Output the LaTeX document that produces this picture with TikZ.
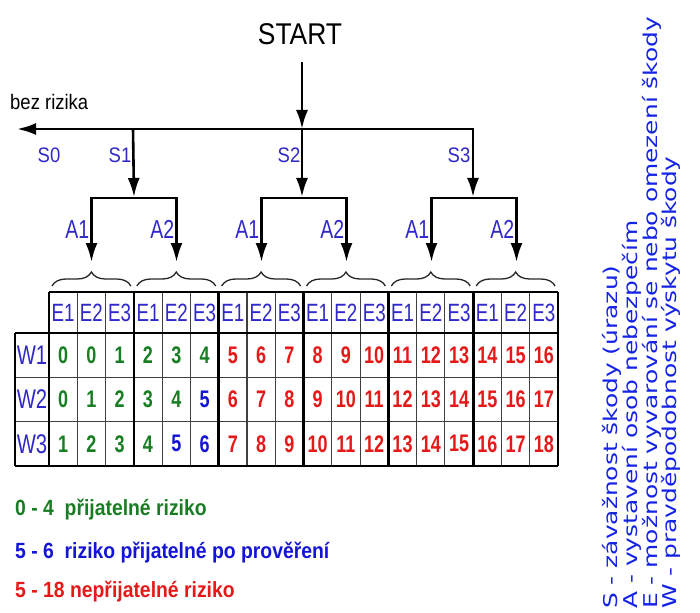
\documentclass[tikz,border=0pt]{standalone}
\usepackage{fontspec}
\usepackage{xcolor}
\usetikzlibrary{arrows.meta,decorations.pathreplacing}
\setmainfont{Liberation Sans}
\newfontfamily\narrowsf[FakeStretch=0.75]{Liberation Sans}
\newfontfamily\midsf[FakeStretch=0.88]{Liberation Sans}
\newfontfamily\vertsf[FakeStretch=1.31]{DejaVu Sans}
\definecolor{labelblue}{RGB}{48,40,200}
\definecolor{riskgreen}{RGB}{25,125,35}
\definecolor{riskblue}{RGB}{20,20,215}
\definecolor{riskred}{RGB}{230,25,25}
\definecolor{noteblue}{RGB}{20,35,230}
\newcommand{\colw}{28.28}
\newcommand{\rowh}{44.33}

\begin{document}
\begin{tikzpicture}[x=1pt,y=-1pt,inner sep=0pt,
  >={Latex[length=19pt,width=12pt]},
  flow/.style={line width=2.6pt},
  gridthin/.style={line width=1.1pt,black!75},
  gridthick/.style={line width=2.6pt},
  bracestyle/.style={line width=1.3pt,black!85,decorate,decoration={brace,amplitude=14pt}},
  slabel/.style={font=\midsf\fontsize{21}{25}\selectfont,text=labelblue,anchor=base},
  alabel/.style={font=\narrowsf\fontsize{26}{30}\selectfont,text=labelblue,anchor=base east},
  head/.style={font=\narrowsf\fontsize{25}{29}\selectfont,text=labelblue},
  num/.style={font=\narrowsf\bfseries\fontsize{24}{28}\selectfont},
  legend/.style={font=\midsf\bfseries\fontsize{22}{26}\selectfont,anchor=base west},
  note/.style={font=\vertsf\fontsize{19}{23}\selectfont,text=noteblue,rotate=90,anchor=base west}]
\useasboundingbox (0,0) rectangle (700,612);

\node[font=\midsf\fontsize{30}{36}\selectfont,anchor=base] (start) at (300,45) {START};
\node[font=\midsf\fontsize{21}{25}\selectfont,anchor=base west] (bez) at (10,110) {bez rizika};

% main flow
\coordinate (st) at (302,62);
\coordinate (hub) at (302,129);
\coordinate (left) at (17,129);
\coordinate (s1) at (133,129);
\coordinate (s3) at (473,129);
\coordinate (top1) at (134,197);
\coordinate (top2) at (302,197);
\coordinate (top3) at (473,197);
\draw[flow,->] (st) -- (hub);
\draw[flow,<->] (left) -- (s3) -- (top3);
\draw[flow,->] (s1) -- (top1);
\draw[flow,->] (hub) -- (top2);

\node[slabel] (lS0) at (49,163) {S0};
\node[slabel] (lS1) at (120,163) {S1};
\node[slabel] (lS2) at (289,163) {S2};
\node[slabel] (lS3) at (459,163) {S3};

% A brackets
\foreach \g/\cx in {1/134,2/304,3/474}{
  \coordinate (a\g l) at ({\cx-42.5},262);
  \coordinate (a\g r) at ({\cx+42.5},262);
  \coordinate (b\g) at (\cx,198);
  \draw[flow,<->] (a\g l) |- (b\g) -| (a\g r);
  \node[alabel] (A\g l) at ({\cx-44.5},238) {A1};
  \node[alabel] (A\g r) at ({\cx+40.5},238) {A2};
}

% braces
\foreach \k in {0,...,5}
  \draw[bracestyle] ({49+3*\k*\colw+3},286) -- ({49+3*(\k+1)*\colw-3},286);

% table grid
\foreach \y in {1,2}
  \draw[gridthin] (15,{333+\y*\rowh}) -- (558,{333+\y*\rowh});
\foreach \c in {1,...,17}
  \draw[gridthin] ({49+\c*\colw},292) -- ({49+\c*\colw},466);
\foreach \c in {0,3,...,18}
  \draw[gridthick] ({49+\c*\colw},292) -- ({49+\c*\colw},466);
\draw[gridthick] (49,292) -- (558,292);
\draw[gridthick] (15,333) -- (558,333);
\draw[gridthick] (15,466) -- (558,466);
\draw[gridthick] (15,333) -- (15,466);

% table texts
\foreach \c in {1,...,18}{
  \pgfmathtruncatemacro\e{mod(\c-1,3)+1}
  \node[head] (e\c) at ({49+(\c-0.5)*\colw},312.5) {E\e};
}
\foreach \r in {1,2,3}{
  \node[head,font=\narrowsf\fontsize{27}{31}\selectfont] (w\r) at (32,{333+(\r-0.5)*\rowh}) {W\r};
  \foreach \c in {1,...,18}{
    \pgfmathtruncatemacro\v{max(\c+\r-3,0)}
    \ifnum\c>6 \def\vcol{riskred}\else\ifnum\v>4 \def\vcol{riskblue}\else\def\vcol{riskgreen}\fi\fi
    \node[num,text=\vcol] (v\r-\c) at ({49+(\c-0.5)*\colw},{333+(\r-0.5)*\rowh}) {\v};
  }
}

% legend
\node[legend,text=riskgreen] (leg1) at (15,515) {0 - 4\ \ přijatelné riziko};
\node[legend,text=riskblue] (leg2) at (15,558) {5 - 6\ \ riziko přijatelné po prověření};
\node[legend,text=riskred] (leg3) at (15,597) {5 - 18 nepřijatelné riziko};

% vertical notes
\node[note] (noteS) at (617,609) {S - závažnost škody (úrazu)};
\node[note] (noteA) at (637,609) {A - vystavení osob nebezpečím};
\node[note] (noteE) at (657,609) {E - možnost vyvarování se nebo omezení škody};
\node[note] (noteW) at (676,609) {W - pravděpodobnost výskytu škody};
\end{tikzpicture}
\end{document}
